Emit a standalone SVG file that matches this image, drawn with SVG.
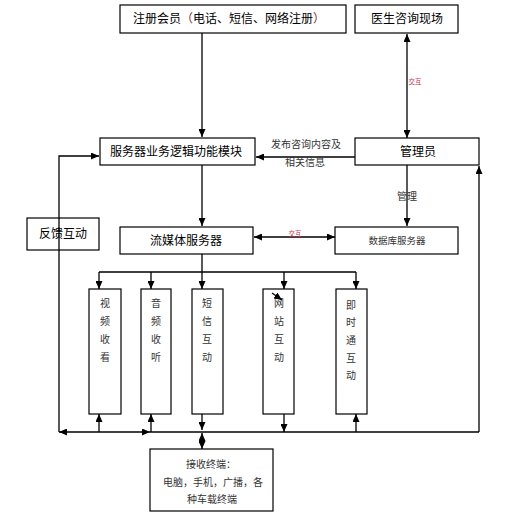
<svg xmlns="http://www.w3.org/2000/svg" width="508" height="517" viewBox="0 0 508 517">
<style>
.box{fill:#fff;stroke:#000;stroke-width:1.2}
.t{font-family:"Liberation Sans","Noto Sans CJK SC",sans-serif;font-size:12px;fill:#000;text-anchor:middle}
.s{font-family:"Liberation Sans","Noto Sans CJK SC",sans-serif;font-size:10px;fill:#333;text-anchor:middle}
.r{font-family:"Liberation Sans","Noto Sans CJK SC",sans-serif;font-size:6.5px;fill:#c03048;text-anchor:middle}
.ln{fill:none;stroke:#000;stroke-width:1.3}
.a{marker-end:url(#ah)}
.b{marker-start:url(#ah);marker-end:url(#ah)}
</style>
<defs>
<marker id="ah" markerUnits="userSpaceOnUse" markerWidth="8" markerHeight="7" refX="8" refY="3.5" orient="auto-start-reverse">
<path d="M0,0 L8,3.5 L0,7 z" fill="#000"/>
</marker>
</defs>
<rect width="508" height="517" fill="#fff"/>
<g id="connectors">
<path class="ln a" d="M202,33 V137"/>
<path class="ln b" d="M407,138 V34"/>
<path class="ln a" d="M355,157 H256"/>
<path class="ln a" d="M59,432 V156 H99"/>
<path class="ln a" d="M202,165 V226"/>
<path class="ln b" d="M254,237 H335"/>
<path class="ln a" d="M407,165 V226"/>
<path class="ln" d="M202,254 V272 M99,272 H356"/>
<path class="ln a" d="M99,272 V289"/>
<path class="ln a" d="M151,272 V289"/>
<path class="ln a" d="M202,272 V289"/>
<path class="ln a" d="M284,272 V289"/>
<path class="ln a" d="M356,272 V289"/>
<path class="ln a" d="M99,432 V414"/>
<path class="ln a" d="M151,432 V414"/>
<path class="ln a" d="M202,414 V430"/>
<path class="ln a" d="M284,414 V432"/>
<path class="ln a" d="M356,432 V414"/>
<path class="ln b" d="M59,432 H150"/>
<path class="ln" d="M150,432 H479"/>
<path class="ln a" d="M479,432 V166"/>
<path class="ln b" d="M202,433 V449"/>
<text class="r" x="415" y="84">交互</text>
<text class="r" x="295" y="236">交互</text>
<text class="s" x="306" y="148">发布咨询内容及</text>
<text class="s" x="305" y="166">相关信息</text>
<text class="s" x="407" y="200">管理</text>
</g>
<g id="register">
<rect class="box" x="120" y="5" width="226" height="28"/>
<text class="t" x="229" y="23">注册会员<tspan fill="#8a2a3a">（</tspan>电话、短信、网络注册<tspan fill="#8a2a3a">）</tspan></text>
</g>
<g id="doctor">
<rect class="box" x="355" y="5" width="103" height="28"/>
<text class="t" x="407" y="23">医生咨询现场</text>
</g>
<g id="logic">
<rect class="box" x="100" y="138" width="155" height="27"/>
<text class="t" x="176" y="156">服务器业务逻辑功能模块</text>
</g>
<g id="admin">
<rect class="box" x="355" y="138" width="124" height="27"/>
<text class="t" x="418" y="156">管理员</text>
</g>
<g id="feedback">
<rect class="box" x="27" y="218" width="72" height="32"/>
<path class="ln" d="M59,218 V250"/>
<text class="t" x="63" y="238">反馈互动</text>
</g>
<g id="stream">
<rect class="box" x="120" y="227" width="133" height="27"/>
<text class="t" x="186" y="245">流媒体服务器</text>
</g>
<g id="database">
<rect class="box" x="335" y="227" width="123" height="27"/>
<text class="s" x="397" y="244" style="font-size:9.5px">数据库服务器</text>
</g>
<g id="video">
<rect class="box" x="89" y="289" width="32" height="125"/>
<text class="s" x="105"><tspan x="105" y="307">视</tspan><tspan x="105" y="325">频</tspan><tspan x="105" y="343">收</tspan><tspan x="105" y="361">看</tspan></text>
</g>
<g id="audio">
<rect class="box" x="141" y="289" width="30" height="125"/>
<text class="s" x="156"><tspan x="156" y="307">音</tspan><tspan x="156" y="325">频</tspan><tspan x="156" y="343">收</tspan><tspan x="156" y="361">听</tspan></text>
</g>
<g id="sms">
<rect class="box" x="192" y="289" width="31" height="125"/>
<text class="s" x="207"><tspan x="207" y="307">短</tspan><tspan x="207" y="325">信</tspan><tspan x="207" y="343">互</tspan><tspan x="207" y="361">动</tspan></text>
</g>
<g id="web">
<rect class="box" x="263" y="289" width="31" height="125"/>
<text class="s" x="279"><tspan x="279" y="307">网</tspan><tspan x="279" y="325">站</tspan><tspan x="279" y="343">互</tspan><tspan x="279" y="361">动</tspan></text>
<path class="ln a" d="M272,293 L282,300"/>
</g>
<g id="im">
<rect class="box" x="336" y="289" width="31" height="125"/>
<text class="s" x="351"><tspan x="351" y="309">即</tspan><tspan x="351" y="326">时</tspan><tspan x="351" y="344">通</tspan><tspan x="351" y="362">互</tspan><tspan x="351" y="379">动</tspan></text>
</g>
<g id="terminal">
<rect class="box" x="150" y="449" width="123" height="62"/>
<text class="s" x="211" y="468">接收终端：</text>
<text class="s" x="213" y="486">电脑，手机，广播，各</text>
<text class="s" x="212" y="503">种车载终端</text>
</g>
</svg>
